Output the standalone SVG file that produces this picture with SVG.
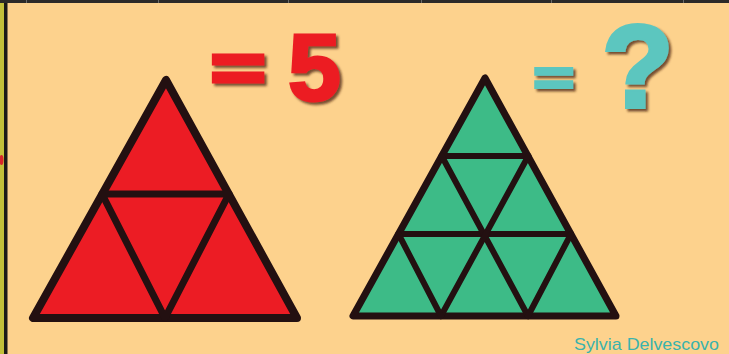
<svg xmlns="http://www.w3.org/2000/svg" width="729" height="354" viewBox="0 0 729 354">
<defs>
<style>
.tri{stroke:#231011;stroke-width:8;stroke-linejoin:round;stroke-linecap:round}
.red{fill:#EC1C24}
.grn{fill:#3DBB87;stroke-width:7}
.inner{fill:none;stroke:#231011;stroke-linecap:round;stroke-linejoin:round}
.big{font-family:"Liberation Sans",Arial,sans-serif;font-weight:bold;paint-order:stroke}
.eq{font-family:"DejaVu Sans",sans-serif}
</style>
<filter id="sh" x="-20%" y="-20%" width="140%" height="140%">
<feDropShadow dx="2.5" dy="2.5" stdDeviation="1.2" flood-color="#4a2010" flood-opacity="0.75"/>
</filter>
</defs>
<rect x="0" y="0" width="729" height="354" fill="#FDD28D"/>
<g id="frame">
<rect x="0" y="0" width="4" height="354" fill="#C3C03A"/>
<rect x="4" y="0" width="3.5" height="354" fill="#1c1a18"/>
<rect x="0" y="0" width="729" height="3" fill="#2b2a28"/>
<g stroke="#6a6a6a" stroke-width="1">
<line x1="26.5" y1="0" x2="26.5" y2="3"/>
<line x1="158.5" y1="0" x2="158.5" y2="3"/>
<line x1="288.5" y1="0" x2="288.5" y2="3"/>
<line x1="421.5" y1="0" x2="421.5" y2="3"/>
<line x1="551.5" y1="0" x2="551.5" y2="3"/>
<line x1="683.5" y1="0" x2="683.5" y2="3"/>
</g>
<ellipse cx="1.5" cy="160" rx="2" ry="5" fill="#D8262A"/>
</g>
<g id="red-triangle">
<polygon class="tri red" points="166,80 33,318 297,318"/>
<polyline class="inner" stroke-width="7" points="102,194 229,194 165,318 102,194"/>
</g>
<g id="green-triangle">
<polygon class="tri grn" points="485,78 353,316 616,316"/>
<g class="inner" stroke-width="6">
<line x1="441.7" y1="156" x2="528.3" y2="156"/>
<line x1="398.5" y1="234" x2="571" y2="234"/>
<line x1="441.7" y1="156" x2="528" y2="316"/>
<line x1="528.3" y1="156" x2="441" y2="316"/>
<line x1="398.5" y1="234" x2="441" y2="316"/>
<line x1="571" y1="234" x2="528" y2="316"/>
</g>
</g>
<g id="label-red" filter="url(#sh)">
<text class="big" fill="#EC1C24" stroke="#EC1C24" stroke-width="3" y="93"><tspan class="eq" x="205" font-size="79">=</tspan><tspan x="288" y="100" font-size="95" stroke-width="3">5</tspan></text>
</g>
<g id="label-green" filter="url(#sh)">
<text class="big" fill="#5CC6BF" stroke="#5CC6BF" stroke-width="2" y="96"><tspan class="eq" x="529" font-size="59">=</tspan><tspan x="602" y="107" font-size="117" stroke-width="4">?</tspan></text>
</g>
<g id="signature">
<text x="574" y="350" font-family="Liberation Sans,Arial,sans-serif" font-size="17" fill="#3AB3AC" textLength="145" lengthAdjust="spacingAndGlyphs">Sylvia Delvescovo</text>
</g>
</svg>
